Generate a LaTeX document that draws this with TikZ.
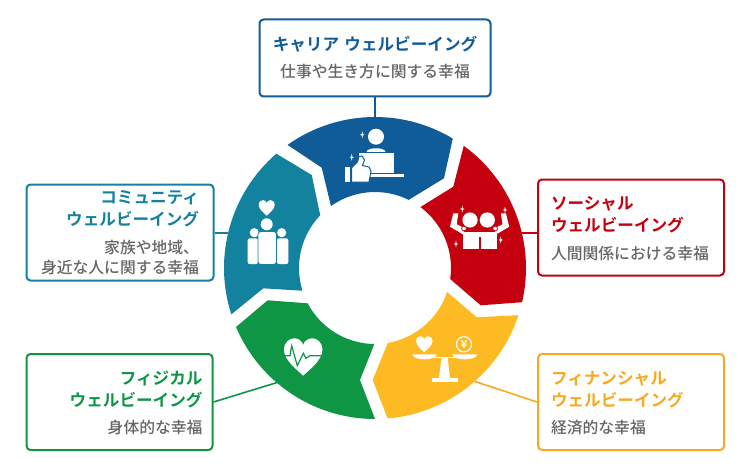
\documentclass[tikz,border=0pt]{standalone}
\usepackage{fontspec}
\usepackage{tikz}
\newfontfamily\jpfont{Noto Sans CJK JP Medium}
\newfontfamily\jpboldfont{Noto Sans CJK JP Bold}

\definecolor{careerc}{HTML}{0F5C99}
\definecolor{socialc}{HTML}{C4000F}
\definecolor{financec}{HTML}{F8A920}
\definecolor{financering}{HTML}{FDBA22}
\definecolor{physicalc}{HTML}{0F9645}
\definecolor{communityc}{HTML}{13829F}
\definecolor{subc}{HTML}{666666}

\newcommand{\ttl}[2]{\textcolor{#1}{\jpboldfont\fontsize{16.6}{22}\selectfont #2}}

\tikzset{
    infobox/.style={draw=#1, fill=white, line width=2pt, rounded corners=4pt, text=subc,
        font=\jpfont\fontsize{15.8}{22}\selectfont, inner ysep=0pt},
    link/.style={draw=#1, line width=1.6pt},
    heartshape/.pic={
        \fill[white] (0,1) .. controls (-0.3,0.7) and (-1,0.2) .. (-1,-0.35)
            .. controls (-1,-0.75) and (-0.7,-0.95) .. (-0.47,-0.95)
            .. controls (-0.25,-0.95) and (-0.05,-0.8) .. (0,-0.6)
            .. controls (0.05,-0.8) and (0.25,-0.95) .. (0.47,-0.95)
            .. controls (0.7,-0.95) and (1,-0.75) .. (1,-0.35)
            .. controls (1,0.2) and (0.3,0.7) .. (0,1) -- cycle;
    },
    sparkleshape/.pic={
        \fill[white] (0,-3.6) -- (0.6,-0.7) -- (2.2,0) -- (0.6,0.7) -- (0,3.6)
            -- (-0.6,0.7) -- (-2.2,0) -- (-0.6,-0.7) -- cycle;
    }
}

\begin{document}
\begin{tikzpicture}[x=1pt, y=-1pt]
    \useasboundingbox (0,0) rectangle (751,473);

    % Boxes
    \node [infobox=careerc, minimum width=231pt, minimum height=77pt, text width=211pt, inner xsep=10pt, align=center]
        (careerbox) at (375,58) {\ttl{careerc}{キャリア ウェルビーイング}\\[5pt]仕事や生き方に関する幸福};
    \node [infobox=socialc, minimum width=186pt, minimum height=96pt, text width=160pt, inner xsep=13pt, align=left]
        (socialbox) at (631,227.5) {\rule{0pt}{15pt}\ttl{socialc}{ソーシャル}\\\ttl{socialc}{ウェルビーイング}\\[6pt]人間関係における幸福};
    \node [infobox=financec, minimum width=186pt, minimum height=96pt, text width=160pt, inner xsep=13pt, align=left]
        (financebox) at (631,402) {\rule{0pt}{16pt}\ttl{financec}{フィナンシャル}\\\ttl{financec}{ウェルビーイング}\\[5pt]経済的な幸福};
    \node [infobox=physicalc, minimum width=186pt, minimum height=96pt, text width=166pt, inner xsep=10pt, align=right]
        (physicalbox) at (119.5,402) {\rule{0pt}{16pt}\ttl{physicalc}{フィジカル}\\\ttl{physicalc}{ウェルビーイング}\\[5pt]身体的な幸福};
    \node [infobox=communityc, minimum width=187pt, minimum height=96pt, text width=158pt, inner xsep=14.5pt, align=right]
        (communitybox) at (120,232.5) {\ttl{communityc}{コミュニティ}\\\ttl{communityc}{ウェルビーイング}\\[6pt]家族や地域、\\[-2pt]身近な人に関する幸福};

    % Paths from boxes to the ring
    \coordinate (careerring) at (375,120);
    \coordinate (socialring) at (520,233);
    \coordinate (financepoint) at (470,379.8);
    \coordinate (physicalpoint) at (282,381);
    \coordinate (communityring) at (228,233);
    \draw [link=careerc] (careerbox) -- (careerring);
    \draw [link=socialc] (socialbox.west |- socialring) -- (socialring);
    \draw [link=financec] (financebox.west) -- (financepoint);
    \draw [link=physicalc] (physicalbox.east) -- (physicalpoint);
    \draw [link=communityc] (communitybox.east |- communityring) -- (communityring);

    % Ring
    \begin{scope}[shift={(375,268)}]
        \fill [careerc] (234.6:151) arc [start angle=234.6, end angle=301, radius=151]
            -- (69,-89.7) -- (296.3:76) arc [start angle=296.3, end angle=234.6, radius=76]
            -- (-53.3,-100.3) -- cycle;
        \fill [socialc] (306:151) arc [start angle=306, end angle=373.1, radius=151]
            -- (105.7,37.3) -- (8.3:76) arc [start angle=368.3, end angle=306.7, radius=76]
            -- (78.3,-81.3) -- cycle;
        \fill [financering] (18.2:151) arc [start angle=18.2, end angle=85.2, radius=151]
            -- (-2.3,112) -- (80.3:76) arc [start angle=80.3, end angle=18.4, radius=76]
            -- (101.7,49.3) -- cycle;
        \fill [physicalc] (90:151) arc [start angle=90, end angle=157, radius=151]
            -- (-107.3,32.3) -- (152.3:76) arc [start angle=152.3, end angle=90.5, radius=76]
            -- (-15,112) -- cycle;
        \fill [communityc] (162.1:151) arc [start angle=162.1, end angle=229.2, radius=151]
            -- (-63.3,-93) -- (223.9:76) arc [start angle=223.9, end angle=162.6, radius=76]
            -- (-111.7,20.3) -- cycle;
    \end{scope}

    % Icon: career
    \fill [white] (376,136.7) circle (8);
    \fill [white] (366.5,152) .. controls (367,147) and (385,147) .. (385.5,152) -- cycle;
    \fill [white] (359,153.5) rectangle (393.5,172.5);
    \fill [white] (369.5,174) rectangle (404,176.7);
    \fill [white] (345,166.7) rectangle (350,181.7);
    \filldraw [white, draw=careerc, line width=1pt] (351.5,168) -- (357.5,162) -- (359,156.5) -- (362,156)
        -- (364.5,160) -- (362.5,165.5) -- (369,167) -- (371,171) -- (369,182) -- (351.5,182) -- cycle;
    \pic at (362.3,134.7) {sparkleshape};
    \pic at (351.7,157.3) {sparkleshape};

    % Icon: social
    \fill [white] (470,220) circle (7.6);
    \fill [white] (487.3,220) circle (7.6);
    \fill [white] (462.7,231.7) rectangle (479,249.3);
    \fill [white] (480.5,231.7) rectangle (497,249.3);
    \fill [white] (478,231.7) rectangle (482,237);
    \fill [white] (450,226.7) -- (453.3,213.3) -- (458.3,213.3) -- (456.7,224.3) -- (464,228) -- (464,235) -- cycle;
    \fill [white] (509.2,226.7) -- (505.9,213.3) -- (500.9,213.3) -- (502.5,224.3) -- (495.2,228) -- (495.2,235) -- cycle;
    \filldraw [white, draw=socialc, line width=.7pt] (464,228.5) circle (2.4);
    \filldraw [white, draw=socialc, line width=.7pt] (495.2,228.5) circle (2.4);
    \pic at (462.3,209) {sparkleshape};
    \pic at (505,210) {sparkleshape};
    \pic at (456,244) {sparkleshape};
    \pic at (500.7,240) {sparkleshape};

    % Icon: finance
    \pic [scale=8.2] at (424.3,344) {heartshape};
    \draw [white, line width=1.2pt] (464,344.3) circle (7.6);
    \node [text=white, font=\jpboldfont\fontsize{11}{11}\selectfont, inner sep=0pt] (yenmark) at (464,344.3) {¥};
    \fill [white] (412.3,354.3) -- (436.7,354.3) .. controls (436,358) and (430,359.3) .. (424.5,359.3)
        .. controls (419,359.3) and (413,358) .. (412.3,354.3) -- cycle;
    \fill [white] (452.3,354.3) -- (477.3,354.3) .. controls (476.5,358) and (470,359.3) .. (464.8,359.3)
        .. controls (459,359.3) and (453,358) .. (452.3,354.3) -- cycle;
    \fill [white] (430,357) rectangle (459,358.4);
    \fill [white] (441.5,358) -- (447.7,358) -- (450,378) -- (439,378) -- cycle;
    \fill [white] (432.3,377.7) rectangle (457.7,382.3);

    % Icon: community
    \pic [scale=8] at (266.7,207.7) {heartshape};
    \fill [white] (254.3,232.7) circle (4.6);
    \fill [white] (281.7,232.7) circle (4.6);
    \fill [white, rounded corners=2pt] (247.7,238.3) rectangle (258,264);
    \fill [white, rounded corners=2pt] (277,238.3) rectangle (288.3,264);
    \fill [white] (266.7,224.3) circle (6);
    \filldraw [white, draw=communityc, line width=.8pt, rounded corners=3pt] (258,231.5) rectangle (276.5,264.5);

    % Icon: physical
    \pic [scale=19.2] at (303.2,356.5) {heartshape};
    \draw [physicalc, line width=1.2pt] (284,355.7) -- (290,355.7) -- (291.7,345.7) -- (297.3,365.7)
        -- (303.3,353.3) -- (306,358.3) -- (310,355.7) -- (322.3,355.7);
\end{tikzpicture}
\end{document}
